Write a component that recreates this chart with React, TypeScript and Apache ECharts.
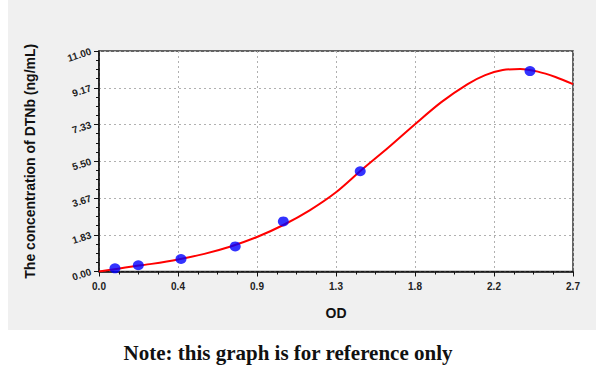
import React, { useEffect, useRef } from "react";
import * as echarts from "echarts";

const pointOD = [0.091, 0.224, 0.467, 0.776, 1.05, 1.488, 2.455];
const pointConc = [0.156, 0.312, 0.625, 1.25, 2.5, 5.0, 10.0];

const curveOD = [0, 0.1, 0.2, 0.3, 0.45, 0.6, 0.75, 0.9, 1.05, 1.2, 1.35, 1.5, 1.65, 1.8, 1.95, 2.1, 2.2, 2.3, 2.4, 2.5, 2.6, 2.7];
const curveConc = [0.0, 0.13, 0.26, 0.38, 0.6, 0.88, 1.25, 1.72, 2.32, 3.05, 3.95, 5.1, 6.2, 7.35, 8.45, 9.35, 9.8, 10.05, 10.1, 9.97, 9.7, 9.35];

const xTickLabels = ["0.0", "0.4", "0.9", "1.3", "1.8", "2.2", "2.7"];
const yTickLabels = ["0.00", "1.83", "3.67", "5.50", "7.33", "9.17", "11.00"];

export default function App() {
  const ref = useRef<HTMLDivElement>(null);
  useEffect(() => {
    document.body.style.margin = "0";
    const chart = echarts.init(ref.current!, null, { renderer: "svg" });
    const yInterval = 11 / 6;
    chart.setOption({
      animation: false,
      graphic: [
        {
          type: "rect",
          z: -10,
          silent: true,
          shape: { x: 8, y: 0, width: 588, height: 330 },
          style: { fill: "#f0f0f0" },
        },
        {
          type: "text",
          x: 288,
          y: 353,
          style: {
            text: "Note: this graph is for reference only",
            font: "bold 21px 'Liberation Serif', serif",
            fill: "#111",
            align: "center",
            verticalAlign: "middle",
          },
        },
      ],
      grid: {
        left: 99,
        right: 27,
        top: 51,
        bottom: 96.5,
        show: true,
        backgroundColor: "#ffffff",
        borderColor: "#333",
        borderWidth: 1.5,
      },
      xAxis: {
        type: "value",
        min: 0,
        max: 2.7,
        interval: 0.45,
        name: "OD",
        nameLocation: "middle",
        nameGap: 34,
        nameTextStyle: { fontFamily: "Liberation Sans", fontWeight: "bold", fontSize: 14, color: "#111" },
        axisLine: { show: true, lineStyle: { color: "#111", width: 1.5 } },
        axisTick: { show: true, inside: false, length: 5, lineStyle: { color: "#111" } },
        minorTick: { show: true, splitNumber: 4, length: 3, lineStyle: { color: "#111" } },
        axisLabel: {
          margin: 10,
          fontFamily: "Liberation Sans",
          fontWeight: "bold",
          fontSize: 10,
          color: "#222",
          formatter: (v: number, i: number) => xTickLabels[Math.round(v / 0.45)] ?? xTickLabels[i],
        },
        splitLine: { show: true, lineStyle: { color: "#b0b0b0", type: [2, 3], width: 1 } },
      },
      yAxis: {
        type: "value",
        min: 0,
        max: 11,
        interval: yInterval,
        name: "The concentration of DTNb (ng/mL)",
        nameLocation: "middle",
        nameGap: 62,
        nameTextStyle: { fontFamily: "Liberation Sans", fontWeight: "bold", fontSize: 14, color: "#111" },
        axisLine: { show: true, lineStyle: { color: "#111", width: 1.5 } },
        axisTick: { show: true, inside: false, length: 5, lineStyle: { color: "#111" } },
        minorTick: { show: true, splitNumber: 4, length: 3, lineStyle: { color: "#111" } },
        axisLabel: {
          margin: 8,
          rotate: 18,
          fontFamily: "Liberation Sans",
          fontWeight: "bold",
          fontSize: 10,
          color: "#222",
          formatter: (v: number) => yTickLabels[Math.round(v / yInterval)] ?? "",
        },
        splitLine: { show: true, lineStyle: { color: "#b0b0b0", type: [2, 3], width: 1 } },
      },
      series: [
        {
          type: "line",
          data: curveOD.map((x, i) => [x, curveConc[i]]),
          smooth: 0.3,
          showSymbol: false,
          symbol: "none",
          lineStyle: { color: "#ff0000", width: 2 },
          z: 2,
        },
        {
          type: "scatter",
          data: pointOD.map((x, i) => [x, pointConc[i]]),
          symbol: "circle",
          symbolSize: [11, 10],
          itemStyle: { color: "#0000ff" },
          z: 3,
        },
      ],
    });
    return () => chart.dispose();
  }, []);
  return <div ref={ref} style={{ width: 600, height: 368 }} />;
}
